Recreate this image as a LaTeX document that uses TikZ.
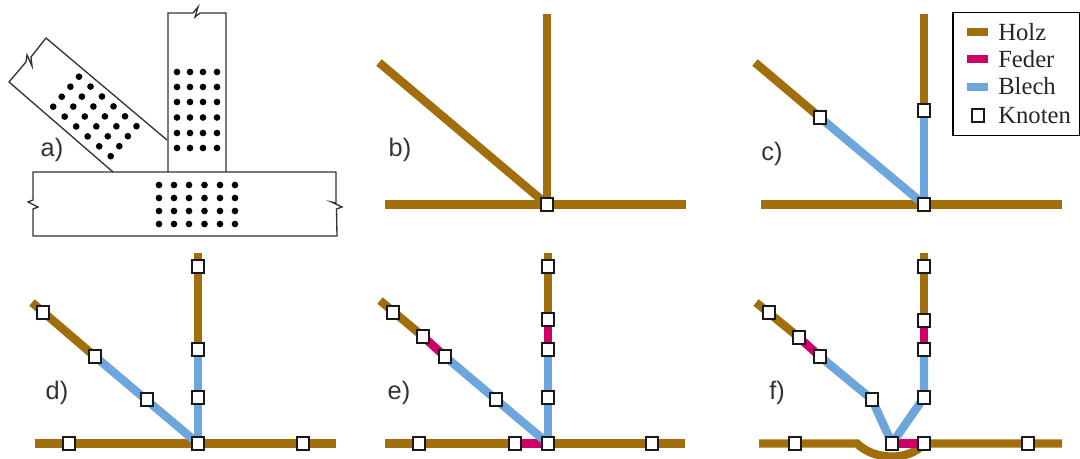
\documentclass[tikz,border=0pt]{standalone}
\usepackage{fontspec}
\setmainfont{Liberation Serif}
\setsansfont{Liberation Sans}
\usetikzlibrary{backgrounds}
\definecolor{holzcol}{RGB}{160,110,10}
\definecolor{federcol}{RGB}{204,0,102}
\definecolor{blechcol}{RGB}{108,166,220}
\tikzset{
    holz/.style={draw=holzcol, line width=6.3pt},
    feder/.style={draw=federcol, line width=6.3pt},
    blech/.style={draw=blechcol, line width=6.3pt},
    knoten/.style={draw=black!90, fill=white, line width=1.2pt, minimum size=9.4pt, inner sep=0pt},
    swatch/.style={minimum width=15.75pt, minimum height=6pt, inner sep=0pt},
    kontur/.style={draw=black!80, line width=1pt, line join=miter},
    loch/.style={fill=black, circle, minimum size=5pt, inner sep=0pt},
    marke/.style={font=\sffamily\fontsize{19pt}{22pt}\selectfont, color=black!80, inner sep=0pt},
    legende/.style={font=\fontsize{18.5pt}{21pt}\selectfont, color=black!85, anchor=base west, inner sep=0pt}
}
\begin{document}
\begin{tikzpicture}[x=0.75pt, y=-0.75pt]
    \useasboundingbox (0,0) rectangle (1080,459);
    % a) Connection
    \begin{scope}
        % Outlines
        \draw[kontur] (168,172) -- (168,13) -- (193,13) -- (198,7) -- (195,17) -- (200,13) -- (226,13) -- (226,172);
        \draw[kontur] (33,172) -- (336,172) -- (336,203) -- (331.5,202) -- (342,207) -- (336.5,209) -- (337,236)
            -- (33,236) -- (33,209) -- (38,207) -- (28,202) -- (33,200) -- cycle;
        \draw[kontur] (167,140) -- (46,38) -- (31,57) -- (32,66) -- (27,55) -- (26,62) -- (9,82) -- (113,172);
        % Dowels
        \foreach \x in {177,190,203,217}
            \foreach \y in {72,87,102,117.5,133,148}
                \node[loch] at (\x,\y) {};
        \foreach \x in {159,174,189,204.5,220,235}
            \foreach \y in {185,198,211,224}
                \node[loch] at (\x,\y) {};
        \foreach \i in {0,...,5}
            \foreach \j in {0,...,3}
                \node[loch] at ({79+11.5*\i-8.6*\j},{76.7+9.9*\i+10*\j}) {};
        \node[marke] (labela) at (52,150) {a)};
    \end{scope}
    % b) Rigid model
    \begin{scope}[shift={(547,204.5)}]
        \node[marke] (labelb) at (-147,-54.5) {b)};
        \node[knoten] (bJ) at (0,0) {};
        \coordinate (bL) at (-162,0);
        \coordinate (bR) at (139,0);
        \coordinate (bT) at (0,-190.5);
        \coordinate (bD) at (-168,-142);
        \begin{pgfonlayer}{background}
            \draw[holz] (bL) -- (bR);
            \draw[holz] (bT) -- (bJ.center);
            \draw[holz] (bD) -- (bJ.center);
        \end{pgfonlayer}
    \end{scope}
    % c) Plates
    \begin{scope}[shift={(924,204.5)}]
        \node[marke] (labelc) at (-152,-50.5) {c)};
        \node[knoten] (cJ) at (0,0) {};
        \node[knoten] (cV) at (0,-94) {};
        \node[knoten] (cS) at (-104,-87) {};
        \coordinate (cL) at (-163,0);
        \coordinate (cR) at (138,0);
        \coordinate (cT) at (0,-190.5);
        \coordinate (cD) at (-169,-142);
        \begin{pgfonlayer}{background}
            \draw[holz] (cL) -- (cR);
            \draw[holz] (cT) -- (cV.center);
            \draw[holz] (cD) -- (cS.center);
            \draw[blech] (cV.center) -- (cJ.center);
            \draw[blech] (cS.center) -- (cJ.center);
        \end{pgfonlayer}
    \end{scope}
    % d) Additional nodes
    \begin{scope}[shift={(198,443.5)}]
        \node[marke] (labeld) at (-141,-50.5) {d)};
        \node[knoten] (dJ) at (0,0) {};
        \node[knoten] (dA) at (-129,0) {};
        \node[knoten] (dB) at (105,0) {};
        \node[knoten] (dV1) at (0,-177) {};
        \node[knoten] (dV2) at (0,-94) {};
        \node[knoten] (dV3) at (0,-46) {};
        \node[knoten] (dS1) at (-155,-131) {};
        \node[knoten] (dS2) at (-103,-87) {};
        \node[knoten] (dS3) at (-51,-44) {};
        \coordinate (dL) at (-163,0);
        \coordinate (dR) at (138,0);
        \coordinate (dT) at (0,-190);
        \coordinate (dD) at (-166,-141);
        \begin{pgfonlayer}{background}
            \draw[holz] (dL) -- (dR);
            \draw[holz] (dT) -- (dV2.center);
            \draw[holz] (dD) -- (dS2.center);
            \draw[blech] (dV2.center) -- (dJ.center);
            \draw[blech] (dS2.center) -- (dJ.center);
        \end{pgfonlayer}
    \end{scope}
    % e) Springs
    \begin{scope}[shift={(548,443.5)}]
        \node[marke] (labele) at (-149,-50.5) {e)};
        \node[knoten] (eJ) at (0,0) {};
        \node[knoten] (eA) at (-129,0) {};
        \node[knoten] (eC) at (-33,0) {};
        \node[knoten] (eB) at (104,0) {};
        \node[knoten] (eV1) at (0,-177) {};
        \node[knoten] (eV2) at (0,-124) {};
        \node[knoten] (eV3) at (0,-94) {};
        \node[knoten] (eV4) at (0,-46) {};
        \node[knoten] (eS1) at (-155,-131) {};
        \node[knoten] (eS2) at (-125,-107) {};
        \node[knoten] (eS3) at (-103,-87) {};
        \node[knoten] (eS4) at (-52,-44) {};
        \coordinate (eL) at (-163,0);
        \coordinate (eR) at (137,0);
        \coordinate (eT) at (0,-190);
        \coordinate (eD) at (-168,-143);
        \begin{pgfonlayer}{background}
            \draw[holz] (eL) -- (eC.center);
            \draw[holz] (eJ.center) -- (eR);
            \draw[feder] (eC.center) -- (eJ.center);
            \draw[holz] (eT) -- (eV2.center);
            \draw[feder] (eV2.center) -- (eV3.center);
            \draw[blech] (eV3.center) -- (eJ.center);
            \draw[holz] (eD) -- (eS2.center);
            \draw[feder] (eS2.center) -- (eS3.center);
            \draw[blech] (eS3.center) -- (eJ.center);
        \end{pgfonlayer}
    \end{scope}
    % f) Eccentric joint
    \begin{scope}[shift={(924,443.5)}]
        \node[marke] (labelf) at (-147,-50.5) {f)};
        \node[knoten] (fJ) at (0,0) {};
        \node[knoten] (fA) at (-129,0) {};
        \node[knoten] (fC) at (-32,0) {};
        \node[knoten] (fB) at (104,0) {};
        \node[knoten] (fV1) at (0,-177) {};
        \node[knoten] (fV2) at (0,-123) {};
        \node[knoten] (fV3) at (0,-94) {};
        \node[knoten] (fV4) at (0,-46) {};
        \node[knoten] (fS1) at (-155,-131) {};
        \node[knoten] (fS2) at (-125,-106) {};
        \node[knoten] (fS3) at (-104,-87) {};
        \node[knoten] (fS4) at (-52,-44) {};
        \coordinate (fL) at (-165,0);
        \coordinate (fK) at (-67,0);
        \coordinate (fR) at (138,0);
        \coordinate (fT) at (0,-190);
        \coordinate (fD) at (-168,-141);
        \begin{pgfonlayer}{background}
            \draw[holz] (fL) -- (fK) .. controls (-50,17) and (-15,18) .. (fJ.center) -- (fR);
            \draw[feder] (fC.center) -- (fJ.center);
            \draw[holz] (fT) -- (fV2.center);
            \draw[feder] (fV2.center) -- (fV3.center);
            \draw[blech] (fV3.center) -- (fV4.center) -- (fC.center);
            \draw[holz] (fD) -- (fS2.center);
            \draw[feder] (fS2.center) -- (fS3.center);
            \draw[blech] (fS3.center) -- (fS4.center) -- (fC.center);
        \end{pgfonlayer}
    \end{scope}
    % Legend
    \draw[kontur, draw=black] (953,12.5) rectangle (1079.5,135.5);
    \node[swatch, fill=holzcol] (swatchholz) at (977.5,32.5) {};
    \node[swatch, fill=federcol] (swatchfeder) at (977.5,59) {};
    \node[swatch, fill=blechcol] (swatchblech) at (977.5,87) {};
    \node[knoten] (swatchknoten) at (978,115.5) {};
    \node[legende] (textholz) at (998,41) {Holz};
    \node[legende] (textfeder) at (998,67.5) {Feder};
    \node[legende] (textblech) at (998,94.5) {Blech};
    \node[legende] (textknoten) at (998,123.5) {Knoten};
\end{tikzpicture}
\end{document}
